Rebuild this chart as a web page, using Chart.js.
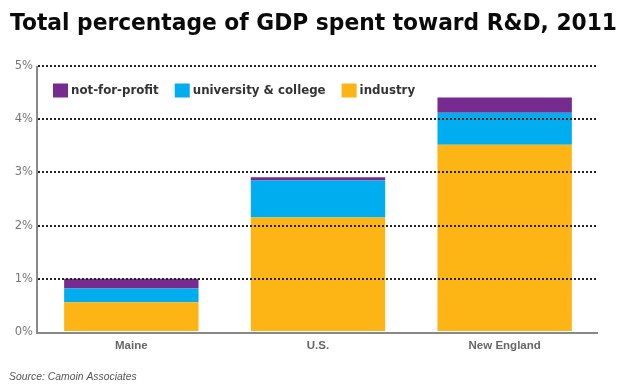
<!DOCTYPE html>
<html>
<head>
<meta charset="utf-8">
<script src="https://cdn.jsdelivr.net/npm/chart.js@4"></script>
<style>
html,body{margin:0;padding:0;background:#fff;}
#wrap{width:624px;height:390px;}
</style>
</head>
<body>
<div id="wrap"><canvas id="c" width="624" height="390"></canvas></div>
<script>
const categories = ["Maine", "U.S.", "New England"];
const industry = [0.56, 2.15, 3.52];
const university = [0.26, 0.70, 0.60];
const notForProfit = [0.18, 0.06, 0.29];
const yTicks = [0, 1, 2, 3, 4, 5];
const titleText = "Total percentage of GDP spent toward R&D, 2011";
const sourceText = "Source: Camoin Associates";

const FONT = "'DejaVu Sans', Verdana, sans-serif";
const NARROW = "'Liberation Sans', Arial, sans-serif";

const textPlugin = {
  id: 'headFoot',
  afterDraw(chart) {
    const ctx = chart.ctx;
    ctx.save();
    ctx.fillStyle = '#0a0a0a';
    ctx.font = "bold 22.5px " + FONT;
    ctx.textBaseline = 'alphabetic';
    ctx.textAlign = 'left';
    ctx.fillText(titleText, 10, 30, 607);
    ctx.fillStyle = '#555';
    ctx.font = "italic 10.4px " + NARROW;
    ctx.fillText(sourceText, 9, 380);
    ctx.restore();
  }
};

const legendPlugin = {
  id: 'insideLegend',
  afterDraw(chart) {
    const ctx = chart.ctx;
    const ds = chart.data.datasets.slice().reverse();
    let x = chart.chartArea.left + 15;
    const y = chart.chartArea.top + 17.5;
    ctx.save();
    ctx.font = "bold 11.8px " + FONT;
    ctx.textBaseline = 'middle';
    ds.forEach(d => {
      ctx.fillStyle = d.backgroundColor;
      ctx.fillRect(x, y, 15, 14);
      x += 18;
      ctx.fillStyle = '#333';
      ctx.fillText(d.label, x, y + 7.5);
      x += ctx.measureText(d.label).width + 16;
    });
    ctx.restore();
  }
};

const axesPlugin = {
  id: 'axisLines',
  afterDatasetsDraw(chart) {
    const { ctx, chartArea: a } = chart;
    ctx.save();
    ctx.strokeStyle = '#888';
    ctx.lineWidth = 2;
    ctx.beginPath();
    ctx.moveTo(a.left - 1, a.top);
    ctx.lineTo(a.left - 1, a.bottom + 1);
    ctx.lineTo(a.right, a.bottom + 1);
    ctx.stroke();
    ctx.restore();
  }
};

new Chart(document.getElementById('c'), {
  type: 'bar',
  data: {
    labels: categories,
    datasets: [
      { label: 'industry', data: industry, backgroundColor: '#FDB515' },
      { label: 'university & college', data: university, backgroundColor: '#00AEEF' },
      { label: 'not-for-profit', data: notForProfit, backgroundColor: '#772B8F' }
    ]
  },
  options: {
    responsive: false,
    animation: false,
    layout: { padding: { left: 10, right: 26, top: 66, bottom: 27 } },
    datasets: { bar: { categoryPercentage: 1.0, barPercentage: 0.72 } },
    plugins: {
      legend: { display: false },
      tooltip: { enabled: false },
      title: { display: false },
      subtitle: { display: false }
    },
    scales: {
      x: {
        stacked: true,
        grid: { display: false, drawTicks: false },
        border: { display: false },
        ticks: { color: '#666', font: { family: NARROW, size: 11.5, weight: 'bold' }, padding: 7 },
        afterFit(s) { s.height = 31; }
      },
      y: {
        stacked: true, min: 0, max: 5,
        afterBuildTicks(s) { s.ticks = yTicks.map(v => ({ value: v })); },
        grid: { color: ctx => ctx.tick.value === 0 ? 'rgba(0,0,0,0)' : '#222', lineWidth: 2, drawTicks: false, z: 1 },
        border: { display: false, dash: [2, 2] },
        ticks: { color: '#777', font: { family: FONT, size: 11.5 }, padding: 5, callback: v => v + '%' },
        afterFit(s) { s.width = 28; }
      }
    }
  },
  plugins: [legendPlugin, axesPlugin, textPlugin]
});
</script>
</body>
</html>
